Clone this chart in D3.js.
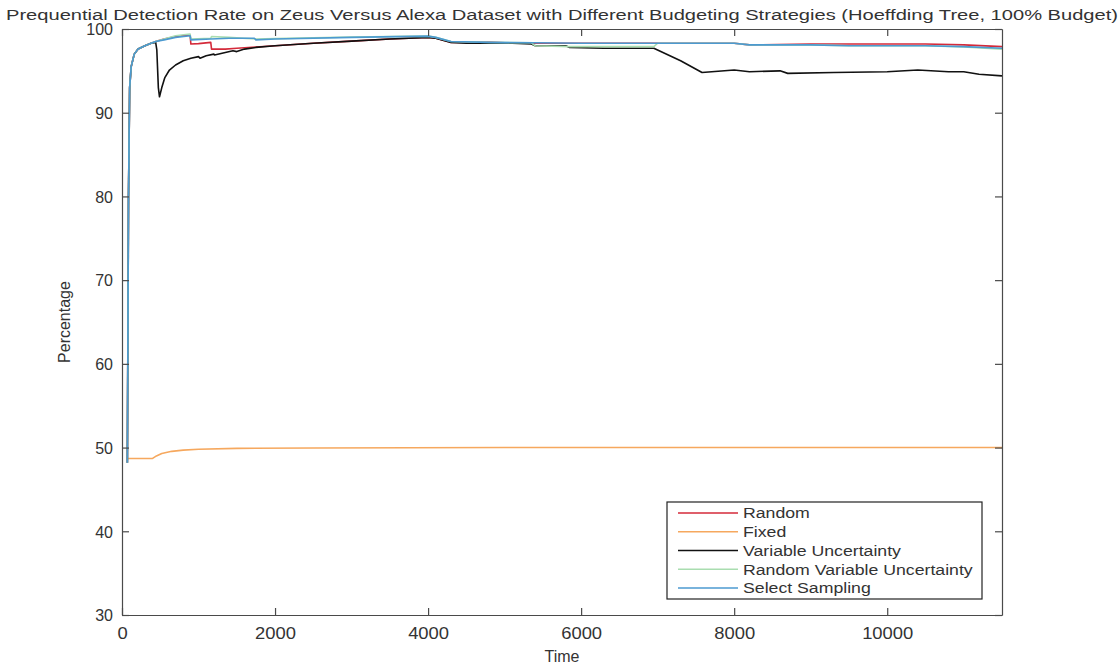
<!DOCTYPE html>
<html>
<head>
<meta charset="utf-8">
<script src="https://cdn.jsdelivr.net/npm/d3@7/dist/d3.min.js"></script>
<style>
  html, body { margin: 0; padding: 0; background: #fff; }
  svg { display: block; font-family: "Liberation Sans", Arial, sans-serif; }
</style>
</head>
<body>
<svg id="chart" width="1119" height="664"></svg>
<script>
// Prequential detection rate (%) over time, one [time, rate] list per budgeting strategy
const randomSeries = [
  [70,48.2],[85,80],[100,93],[120,95.5],[160,97.0],[210,97.6],[300,98.0],[380,98.3],[440,98.5],
  [550,98.8],[700,99.1],[890,99.3],[900,98.2],[1000,98.25],[1160,98.4],[1170,97.6],[1350,97.6],
  [1500,97.7],[1750,97.85],[2000,98.0],[2500,98.3],[3000,98.55],[3500,98.8],[4000,99.0],[4100,98.9],
  [4300,98.4],[4500,98.4],[4800,98.45],[5000,98.35],[5400,98.3],[6000,98.3],[7000,98.3],[8000,98.3],
  [8200,98.1],[9000,98.2],[9500,98.2],[10500,98.2],[11000,98.1],[11500,97.9]
];
const fixedSeries = [
  [75,48.7],[400,48.7],[450,49.0],[520,49.3],[650,49.55],[800,49.7],[1000,49.8],[1500,49.9],
  [2500,49.95],[5000,50.0],[11500,50.0]
];
const variableUncertaintySeries = [
  [70,48.2],[85,80],[100,93],[120,95.5],[160,97.0],[210,97.6],[300,98.0],[380,98.3],[440,98.4],
  [455,97.5],[475,93.0],[490,91.9],[520,93.0],[560,94.2],[620,95.1],[700,95.7],[800,96.2],[900,96.5],
  [1000,96.7],[1020,96.5],[1100,96.8],[1200,97.0],[1210,96.9],[1350,97.2],[1450,97.4],[1500,97.3],
  [1600,97.6],[1750,97.8],[2000,98.0],[2500,98.3],[3000,98.55],[3500,98.8],[4000,99.0],[4100,98.9],
  [4300,98.4],[4500,98.3],[4800,98.3],[5100,98.3],[5350,98.2],[5400,98.0],[5800,98.0],[5850,97.8],
  [6300,97.7],[6950,97.7],[7300,96.2],[7580,94.8],[8000,95.1],[8200,94.9],[8600,95.0],[8700,94.7],
  [9300,94.8],[10000,94.9],[10400,95.1],[10800,94.9],[11000,94.9],[11200,94.6],[11500,94.4]
];
const randomVariableUncertaintySeries = [
  [70,48.2],[85,80],[100,93],[120,95.5],[160,97.0],[210,97.6],[300,98.0],[380,98.3],[440,98.5],
  [550,98.8],[700,99.2],[890,99.4],[900,98.8],[1160,98.9],[1170,99.1],[1400,99.0],[1750,98.8],
  [2000,98.85],[3000,99.05],[4000,99.15],[4100,99.0],[4300,98.5],[4800,98.4],[5350,98.35],
  [5400,98.0],[5850,97.9],[6950,97.9],[7000,98.3],[8000,98.3],[8200,98.1],[9000,98.1],
  [9500,98.0],[10500,98.0],[11000,97.85],[11500,97.6]
];
const selectSamplingSeries = [
  [70,48.2],[85,80],[100,93],[120,95.5],[160,97.0],[210,97.6],[300,98.0],[380,98.3],[440,98.5],
  [550,98.7],[700,99.0],[890,99.2],[900,98.7],[1160,98.8],[1400,98.9],[1730,98.9],[1750,98.7],
  [2000,98.8],[3000,99.0],[4000,99.15],[4100,99.0],[4300,98.5],[4800,98.4],[5400,98.35],
  [6000,98.3],[7000,98.3],[8000,98.3],[8200,98.1],[9000,98.1],[9500,98.0],[10500,98.0],
  [11000,97.9],[11500,97.7]
];

const seriesNames = ["Random", "Fixed", "Variable Uncertainty", "Random Variable Uncertainty", "Select Sampling"];
const seriesData = [randomSeries, fixedSeries, variableUncertaintySeries, randomVariableUncertaintySeries, selectSamplingSeries];
const seriesColors = ["#d42a3a", "#f6a85e", "#111111", "#a9ddb0", "#4c9ad0"];

const xTicks = [0, 2000, 4000, 6000, 8000, 10000];
const yTicks = [30, 40, 50, 60, 70, 80, 90, 100];
const xDomain = [0, 11500];
const yDomain = [30, 100];

const titleText = "Prequential Detection Rate on Zeus Versus Alexa Dataset with Different Budgeting Strategies (Hoeffding Tree, 100% Budget)";
const xLabel = "Time";
const yLabel = "Percentage";

// layout
const plot = { left: 122, top: 29, right: 1002, bottom: 615 };
const axisColor = "#4a4a4a";
const textColor = "#333333";
const tickLen = 7;

const svg = d3.select("#chart");
const x = d3.scaleLinear().domain(xDomain).range([plot.left, plot.right]);
const y = d3.scaleLinear().domain(yDomain).range([plot.bottom, plot.top]);

// data lines, clipped to the axes box
svg.append("clipPath").attr("id", "plotClip")
  .append("rect")
  .attr("x", plot.left).attr("y", plot.top)
  .attr("width", plot.right - plot.left).attr("height", plot.bottom - plot.top);

const line = d3.line().x(d => x(d[0])).y(d => y(d[1]));
const lines = svg.append("g").attr("clip-path", "url(#plotClip)");
seriesData.forEach((data, i) => {
  lines.append("path")
    .datum(data)
    .attr("d", line)
    .attr("fill", "none")
    .attr("stroke", seriesColors[i])
    .attr("stroke-width", 1.6)
    .attr("stroke-linejoin", "round");
});

// axes with inward ticks on all four sides
const plain = d3.format("d");
const gBottom = svg.append("g").attr("transform", `translate(0,${plot.bottom})`)
  .call(d3.axisBottom(x).tickValues(xTicks).tickFormat(plain).tickSizeInner(-tickLen).tickSizeOuter(0).tickPadding(0));
const gTop = svg.append("g").attr("transform", `translate(0,${plot.top})`)
  .call(d3.axisTop(x).tickValues(xTicks).tickSizeInner(-tickLen).tickSizeOuter(0).tickFormat(""));
const gLeft = svg.append("g").attr("transform", `translate(${plot.left},0)`)
  .call(d3.axisLeft(y).tickValues(yTicks).tickFormat(plain).tickSizeInner(-tickLen).tickSizeOuter(0).tickPadding(0));
const gRight = svg.append("g").attr("transform", `translate(${plot.right},0)`)
  .call(d3.axisRight(y).tickValues(yTicks).tickSizeInner(-tickLen).tickSizeOuter(0).tickFormat(""));

[gBottom, gTop, gLeft, gRight].forEach(g => {
  g.select(".domain").attr("stroke", axisColor).attr("stroke-width", 1.2);
  g.selectAll(".tick line").attr("stroke", axisColor).attr("stroke-width", 1.2);
});

gBottom.selectAll(".tick text")
  .attr("y", 24).attr("dy", 0)
  .attr("fill", textColor)
  .style("font-size", "16px")
  .attr("transform", "scale(1.15,1)");
gLeft.selectAll(".tick text")
  .attr("x", -9).attr("dy", "0.36em")
  .attr("fill", textColor)
  .style("font-size", "16px");

// title and axis labels
svg.append("text")
  .attr("x", 562).attr("y", 20)
  .attr("text-anchor", "middle")
  .attr("fill", textColor)
  .style("font-size", "15.5px")
  .attr("textLength", 1112)
  .attr("lengthAdjust", "spacingAndGlyphs")
  .text(titleText);

svg.append("text")
  .attr("x", 562).attr("y", 662)
  .attr("text-anchor", "middle")
  .attr("fill", textColor)
  .style("font-size", "16px")
  .text(xLabel);

svg.append("text")
  .attr("transform", "translate(70,322) rotate(-90)")
  .attr("text-anchor", "middle")
  .attr("fill", textColor)
  .style("font-size", "16px")
  .text(yLabel);

// legend
const legend = { left: 667, top: 502, right: 982, bottom: 599, firstRow: 513, rowStep: 18.75 };
svg.append("rect")
  .attr("x", legend.left).attr("y", legend.top)
  .attr("width", legend.right - legend.left).attr("height", legend.bottom - legend.top)
  .attr("fill", "#fff").attr("stroke", "#222").attr("stroke-width", 1.2);

seriesNames.forEach((name, i) => {
  const ry = legend.firstRow + i * legend.rowStep;
  svg.append("line")
    .attr("x1", 678).attr("x2", 738).attr("y1", ry).attr("y2", ry)
    .attr("stroke", seriesColors[i]).attr("stroke-width", 1.6);
  svg.append("text")
    .attr("transform", `translate(743,${ry}) scale(1.18,1)`)
    .attr("dy", "0.36em")
    .attr("fill", textColor)
    .style("font-size", "15px")
    .text(name);
});
</script>
</body>
</html>
